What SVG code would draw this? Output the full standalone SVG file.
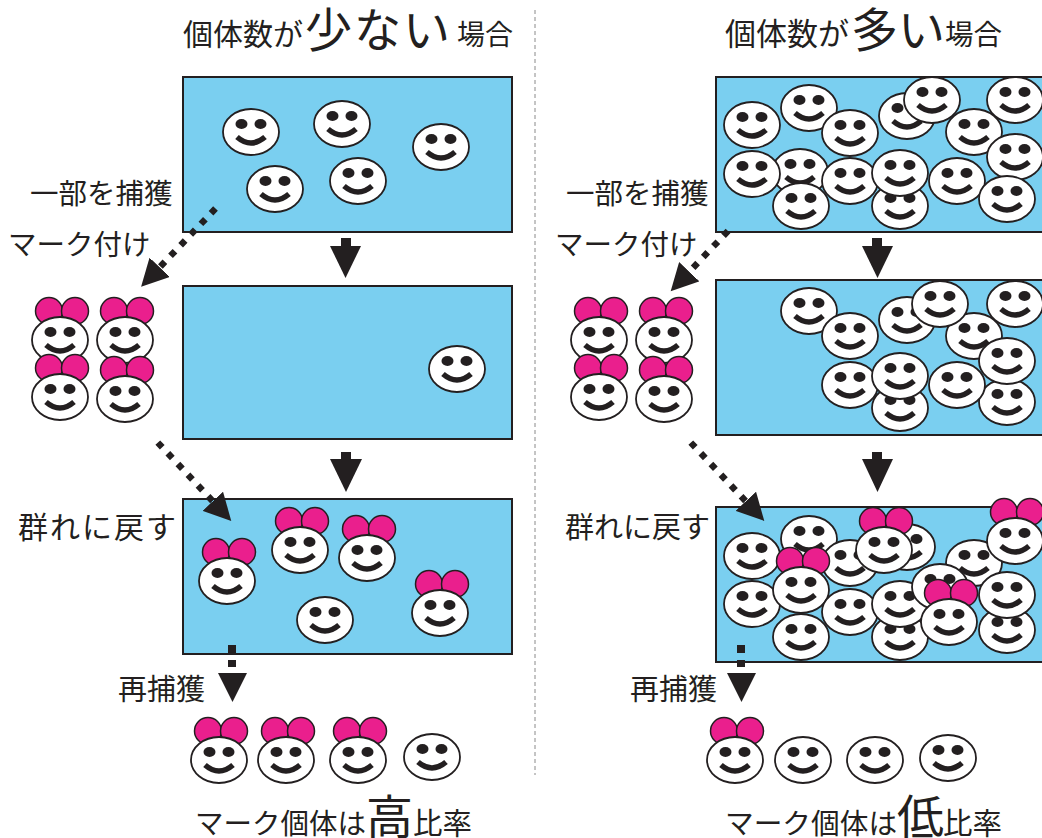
<svg xmlns="http://www.w3.org/2000/svg" width="1042" height="838" viewBox="0 0 1042 838">
  <style>
    .lbl { font-family: "Noto Sans CJK JP", "Noto Sans", sans-serif; fill: #231f20; }
    .box { fill: #7acff0; stroke: #231f20; stroke-width: 2; }
    .ink { fill: #231f20; }
    .dots { fill: none; stroke: #231f20; stroke-width: 6.5; stroke-dasharray: 6.5 8.2; }
    .sep { fill: none; stroke: #8a8a8a; stroke-width: 1; stroke-dasharray: 4 3; }
  </style>
  <defs>
    <g id="face">
      <ellipse rx="28" ry="23" fill="#fff" stroke="#231f20" stroke-width="1.8"/>
      <ellipse cx="-9.5" cy="-8" rx="6" ry="5" fill="#231f20"/>
      <ellipse cx="9.5" cy="-8" rx="6" ry="5" fill="#231f20"/>
      <path d="M-14,5 Q0,17 14,5" fill="none" stroke="#231f20" stroke-width="5.5"/>
    </g>
    <g id="bow">
      <circle cx="-11" cy="-29" r="13.5" fill="#ea1f8d" stroke="#231f20" stroke-width="1.5"/>
      <circle cx="15" cy="-29" r="13.5" fill="#ea1f8d" stroke="#231f20" stroke-width="1.5"/>
    </g>
    <g id="mface">
      <use href="#bow"/>
      <use href="#face"/>
    </g>
    <marker id="head" markerUnits="userSpaceOnUse" viewBox="0 0 28 28" markerWidth="28" markerHeight="28" refX="1" refY="14" orient="auto">
      <path d="M0,0 L27,14 L0,28 Z" fill="#231f20"/>
    </marker>
  </defs>

  <rect width="1042" height="838" fill="#fff"/>

  <!-- column divider -->
  <line class="sep" x1="535" y1="10" x2="535" y2="775"/>

  <!-- titles -->
  <g id="title-few">
    <text class="lbl"><tspan x="183" y="45" font-size="30">個体数が</tspan><tspan x="305" y="47" font-size="47" letter-spacing="2">少ない</tspan><tspan x="457" y="45" font-size="28">場合</tspan></text>
  </g>
  <g id="title-many">
    <text class="lbl"><tspan x="725" y="45" font-size="31">個体数が</tspan><tspan x="851" y="47" font-size="47">多い</tspan><tspan x="945" y="45" font-size="28.5">場合</tspan></text>
  </g>

  <!-- step labels -->
  <g id="labels-few">
    <text class="lbl" x="30" y="204" font-size="28.5">一部を捕獲</text>
    <text class="lbl" x="8" y="255" font-size="28.5">マーク付け</text>
    <text class="lbl" x="18" y="538" font-size="30" letter-spacing="2">群れに戻す</text>
    <text class="lbl" x="118" y="700" font-size="29">再捕獲</text>
  </g>
  <g id="labels-many">
    <text class="lbl" x="566" y="204" font-size="28.5">一部を捕獲</text>
    <text class="lbl" x="555" y="255" font-size="28.5">マーク付け</text>
    <text class="lbl" x="565" y="538" font-size="29">群れに戻す</text>
    <text class="lbl" x="630" y="700" font-size="29">再捕獲</text>
  </g>

  <!-- results -->
  <g id="result-few">
    <text class="lbl" y="834"><tspan x="195" font-size="28.5">マーク個体は</tspan><tspan x="366" font-size="47">高</tspan><tspan x="413" font-size="29.5">比率</tspan></text>
  </g>
  <g id="result-many">
    <text class="lbl" y="834"><tspan x="725" font-size="28.7">マーク個体は</tspan><tspan x="897" font-size="47">低</tspan><tspan x="943" font-size="29.5">比率</tspan></text>
  </g>

  <!-- small population: ponds -->
  <g id="few-pond-1">
    <rect class="box" x="183" y="77" width="329" height="155"/>
    <use href="#face" x="251" y="132"/>
    <use href="#face" x="342" y="124"/>
    <use href="#face" x="441" y="147"/>
    <use href="#face" x="275" y="189"/>
    <use href="#face" x="358" y="181"/>
  </g>
  <g id="few-pond-2">
    <rect class="box" x="183" y="286" width="329" height="153"/>
    <use href="#face" x="457" y="369"/>
  </g>
  <g id="few-pond-3">
    <rect class="box" x="183" y="499" width="329" height="155"/>
    <use href="#face" x="325" y="620"/>
    <use href="#mface" x="227" y="581"/>
    <use href="#mface" x="300" y="550"/>
    <use href="#mface" x="367" y="558"/>
    <use href="#mface" x="440" y="613"/>
  </g>
  <g id="few-marked">
    <use href="#mface" x="60" y="340"/>
    <use href="#mface" x="125" y="340"/>
    <use href="#mface" x="60" y="397"/>
    <use href="#mface" x="125" y="399"/>
  </g>
  <g id="few-recapture">
    <use href="#mface" x="219" y="760"/>
    <use href="#mface" x="286" y="760"/>
    <use href="#mface" x="358" y="760"/>
    <use href="#face" x="432" y="757"/>
  </g>

  <!-- large population: ponds -->
  <g id="many-pond-1">
    <rect class="box" x="716" y="77" width="340" height="155"/>
    <use href="#face" x="752" y="125"/>
    <use href="#face" x="809" y="108"/>
    <use href="#face" x="850" y="133"/>
    <use href="#face" x="907" y="116"/>
    <use href="#face" x="932" y="100"/>
    <use href="#face" x="1015" y="100"/>
    <use href="#face" x="974" y="132"/>
    <use href="#face" x="1015" y="157"/>
    <use href="#face" x="800" y="172"/>
    <use href="#face" x="752" y="174"/>
    <use href="#face" x="801" y="206"/>
    <use href="#face" x="850" y="181"/>
    <use href="#face" x="900" y="206"/>
    <use href="#face" x="900" y="173"/>
    <use href="#face" x="957" y="181"/>
    <use href="#face" x="1007" y="199"/>
  </g>
  <g id="many-pond-2">
    <rect class="box" x="716" y="280" width="340" height="155"/>
    <use href="#face" x="809" y="311"/>
    <use href="#face" x="850" y="336"/>
    <use href="#face" x="907" y="320"/>
    <use href="#face" x="974" y="336"/>
    <use href="#face" x="940" y="304"/>
    <use href="#face" x="1015" y="304"/>
    <use href="#face" x="1007" y="402"/>
    <use href="#face" x="1007" y="361"/>
    <use href="#face" x="850" y="385"/>
    <use href="#face" x="900" y="408"/>
    <use href="#face" x="900" y="376"/>
    <use href="#face" x="957" y="385"/>
  </g>
  <g id="many-pond-3">
    <rect class="box" x="716" y="507" width="340" height="155"/>
    <use href="#face" x="752" y="556"/>
    <use href="#face" x="809" y="539"/>
    <use href="#face" x="850" y="563"/>
    <use href="#face" x="907" y="547"/>
    <use href="#mface" x="884" y="550"/>
    <use href="#face" x="974" y="563"/>
    <use href="#mface" x="1015" y="541"/>
    <use href="#face" x="752" y="604"/>
    <use href="#mface" x="801" y="590"/>
    <use href="#face" x="850" y="612"/>
    <use href="#face" x="801" y="637"/>
    <use href="#face" x="900" y="637"/>
    <use href="#face" x="900" y="604"/>
    <use href="#face" x="940" y="587"/>
    <use href="#mface" x="949" y="622"/>
    <use href="#face" x="1007" y="630"/>
    <use href="#face" x="1007" y="595"/>
  </g>
  <g id="many-marked">
    <use href="#mface" x="599" y="340"/>
    <use href="#mface" x="664" y="340"/>
    <use href="#mface" x="599" y="397"/>
    <use href="#mface" x="664" y="399"/>
  </g>
  <g id="many-recapture">
    <use href="#mface" x="735" y="760"/>
    <use href="#face" x="803" y="760"/>
    <use href="#face" x="875" y="760"/>
    <use href="#face" x="948" y="758"/>
  </g>

  <!-- arrows -->
  <g id="connectors">
    <!-- solid step arrows -->
    <rect class="ink" x="341" y="238" width="10" height="8"/>
    <polygon class="ink" points="330,246 361,246 345.5,278"/>
    <rect class="ink" x="341" y="452" width="10" height="7"/>
    <polygon class="ink" points="330,459 362,459 346,492"/>
    <rect class="ink" x="872" y="238" width="10" height="8"/>
    <polygon class="ink" points="862,246 893,246 877.5,278"/>
    <rect class="ink" x="872" y="452" width="10" height="7"/>
    <polygon class="ink" points="862,459 893,459 877.5,492"/>

    <!-- dotted: capture / release -->
    <line class="dots" x1="215.5" y1="208.5" x2="159" y2="268" marker-end="url(#head)"/>
    <line class="dots" x1="157.8" y1="442.6" x2="213.5" y2="502" marker-end="url(#head)"/>
    <line class="dots" x1="728" y1="231" x2="688.6" y2="272.4" marker-end="url(#head)"/>
    <line class="dots" x1="690.8" y1="442.6" x2="746.5" y2="502" marker-end="url(#head)"/>

    <!-- dotted: recapture -->
    <rect class="ink" x="228" y="645" width="8" height="8"/>
    <rect class="ink" x="228" y="660" width="8" height="7"/>
    <polygon class="ink" points="218,673 247,673 232.5,702"/>
    <rect class="ink" x="737" y="645" width="8" height="8"/>
    <rect class="ink" x="737" y="660" width="8" height="7"/>
    <polygon class="ink" points="727,673 756,673 741.5,702"/>
  </g>
</svg>
